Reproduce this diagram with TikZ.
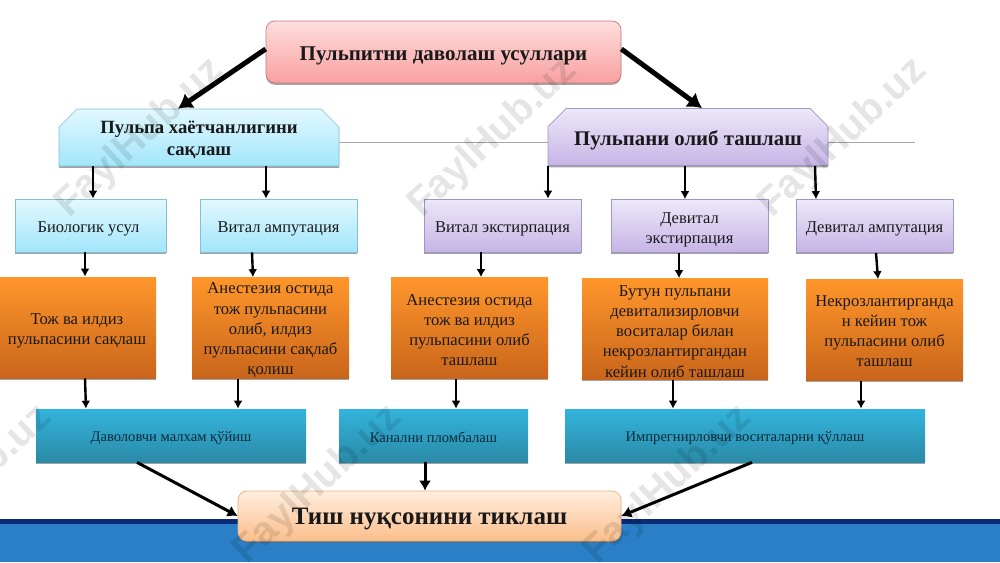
\documentclass[tikz,border=0pt]{standalone}
\usepackage{fontspec}
\setmainfont{Liberation Serif}
\newfontfamily\marksans{Liberation Sans}
\usetikzlibrary{arrows,arrows.meta,shapes,positioning,shadows}

\definecolor{bandblue}{HTML}{2A7FC6}
\definecolor{bandnavy}{HTML}{0B2A78}
\definecolor{inkteal}{HTML}{0E2A3A}
\definecolor{redtop}{HTML}{FFDEDE}
\definecolor{redlow}{HTML}{F8A0A0}
\definecolor{redline}{HTML}{C47C7C}
\definecolor{peachtop}{HTML}{FFEEDF}
\definecolor{peachlow}{HTML}{FBBE8A}
\definecolor{peachline}{HTML}{E8B080}
\definecolor{bluetop}{HTML}{E2F8FE}
\definecolor{bluelow}{HTML}{A2E6FB}
\definecolor{blueline}{HTML}{86BFD2}
\definecolor{violettop}{HTML}{EDE8F9}
\definecolor{violetlow}{HTML}{C6B4E6}
\definecolor{violetline}{HTML}{A096C4}
\definecolor{orangetop}{HTML}{FF962B}
\definecolor{orangelow}{HTML}{C9651B}
\definecolor{tealtop}{HTML}{33B4DD}
\definecolor{teallow}{HTML}{2A8AA6}

\tikzset{
  lift/.style={execute at begin node={\rule{0pt}{#1}}},
  boxbase/.style={inner sep=0pt,align=center,text=black!90,line width=0.7pt,
    drop shadow={shadow xshift=0pt,shadow yshift=-1.8pt,fill=black!60,opacity=0.6}},
  titlebox/.style={boxbase,rounded corners=9pt,draw=redline,top color=redtop,bottom color=redlow,
    minimum width=355pt,minimum height=62pt,lift=22pt,font=\fontsize{21}{25}\selectfont\bfseries},
  endbox/.style={boxbase,rounded corners=9pt,draw=peachline,top color=peachtop,bottom color=peachlow,
    minimum width=383pt,minimum height=50pt,lift=23pt,font=\fontsize{25}{29}\selectfont\bfseries},
  headbox/.style={boxbase,chamfered rectangle,chamfered rectangle corners={north west,north east},
    chamfered rectangle xsep=9pt,chamfered rectangle ysep=9pt,minimum width=280pt,minimum height=57pt},
  bluehead/.style={headbox,draw=blueline,top color=bluetop,bottom color=bluelow},
  headtext/.style={inner sep=0pt,align=center,text=black!90,font=\fontsize{18.7}{22}\selectfont\bfseries},
  violethead/.style={headbox,draw=violetline,top color=violettop,bottom color=violetlow,lift=22pt,
    font=\fontsize{20.8}{24}\selectfont\bfseries},
  bluebox/.style={boxbase,draw=blueline,top color=bluetop,bottom color=bluelow,lift=17.5pt,
    minimum width=157pt,minimum height=53pt,font=\fontsize{16.5}{20}\selectfont},
  violetbox/.style={boxbase,draw=violetline,top color=violettop,bottom color=violetlow,lift=17.5pt,
    minimum width=157pt,minimum height=53pt,font=\fontsize{16.5}{20}\selectfont},
  orangebox/.style={boxbase,top color=orangetop,bottom color=orangelow,
    minimum width=157pt,minimum height=101pt,font=\fontsize{16.6}{20.2}\selectfont},
  tealbox/.style={boxbase,top color=tealtop,bottom color=teallow,text=inkteal,
    execute at begin node={\rule[-3pt]{0pt}{19pt}},
    minimum height=53pt,font=\fontsize{14.6}{17}\selectfont},
  wmtext/.style={rotate=43,opacity=0.1,text=black,font=\fontsize{40}{40}\selectfont\marksans\bfseries},
  flow/.style={-{Latex[length=8pt,width=9pt]},line width=2.4pt},
  midflow/.style={-{Latex[length=10pt,width=12pt]},line width=3pt},
  bigflow/.style={-{Latex[length=14pt,width=18pt]},line width=5pt},
}

\begin{document}
\begin{tikzpicture}[x=1pt,y=-1pt]
\useasboundingbox (0,0) rectangle (1000,562);

% band at the bottom and the thin line
\fill [bandblue] (0,519) rectangle (1000,562);
\fill [bandnavy] (0,519) rectangle (1000,524);
\draw [black!35,line width=0.7pt] (339,142.5) -- (915,142.5);

% top
\node[titlebox] (title) at (443.5,52) {Пульпитни даволаш усуллари};
\node[bluehead] (life) at (199,137.5) {\phantom{\rule{197pt}{38pt}}};
\node[headtext] (lifetext) at (199,139.5) {Пульпа хаётчанлигини\\сақлаш};
\node[violethead] (remove) at (688,137) {Пульпани олиб ташлаш};

% methods
\node[bluebox,minimum width=151pt] (bio) at (90.5,225.5) {Биологик усул\hspace{4pt}};
\node[bluebox] (vital) at (278.5,225.5) {Витал ампутация};
\node[violetbox] (extirp) at (502.5,225.5) {Витал экстирпация};
\node[violetbox,lift=38.5pt] (devext) at (689.5,226) {Девитал\\экстирпация};
\node[violetbox] (devamp) at (874.5,226) {Девитал ампутация};

% descriptions
\node[orangebox,lift=37.7pt,minimum width=158pt] (crown) at (77,327.5) {Тож ва илдиз\\пульпасини сақлаш};
\node[orangebox,lift=96.5pt] (anest) at (270.5,328) {Анестезия остида\\тож пульпасини\\олиб, илдиз\\пульпасини сақлаб\\қолиш};
\node[orangebox,lift=76pt] (anestb) at (469.5,328) {Анестезия остида\\тож ва илдиз\\пульпасини олиб\\ташлаш};
\node[orangebox,lift=96.3pt,minimum width=186pt] (whole) at (675,329) {Бутун пульпани\\девитализирловчи\\воситалар билан\\некрозлантиргандан\\кейин олиб ташлаш};
\node[orangebox,lift=74pt] (necro) at (884.5,330) {Некрозлантирганда\\н кейин тож\\пульпасини олиб\\ташлаш};

% fillings
\node[tealbox,minimum width=270pt] (salve) at (171,435.5) {Даволовчи малхам қўйиш};
\node[tealbox,minimum width=189pt] (canal) at (433.5,435.5) {Канални пломбалаш};
\node[tealbox,minimum width=360pt] (impreg) at (745,435.5) {Импрегнирловчи воситаларни қўллаш};

\node[endbox] (restore) at (429.5,516) {Тиш нуқсонини тиклаш};

% connectors
\draw[bigflow] ([yshift=3pt]title.west) -- ([xshift=-21pt]life.north);
\draw[bigflow] ([yshift=3pt]title.east) -- ([xshift=14pt]remove.north);

\foreach \a/\sa/\b/\sb in {life/-106/bio/2.5,life/67/vital/-12.5,
  remove/-140/extirp/45.5,remove/-3/devext/-4.5,remove/127/devamp/-58.5,
  bio/-5.5/crown/8,vital/-26.5/anest/-17.5,extirp/-21.5/anestb/11.5,
  devext/-10.5/whole/4,devamp/1.5/necro/-6.5,
  crown/8/salve/-85,anest/-32.5/salve/67,anestb/-13.5/canal/22.5,
  whole/-2/impreg/-72,necro/-23.5/impreg/116}
  \draw[flow] ([xshift=\sa pt]\a.south) -- ([xshift=\sb pt]\b.north);

\draw[midflow] ([xshift=-8.5pt]canal.south) -- ([xshift=-4.5pt]restore.north);
\draw[midflow] ([xshift=-34pt]salve.south) -- (restore.west);
\draw[midflow] ([xshift=7pt]impreg.south) -- (restore.east);

% watermark
\foreach \x in {-32,318,668}
  \node[wmtext] (wmlow\x) at (\x,485) {FaylHub.uz};
\foreach \x in {140,493,843}
  \node[wmtext] (wmtop\x) at (\x,138) {FaylHub.uz};

\end{tikzpicture}
\end{document}
